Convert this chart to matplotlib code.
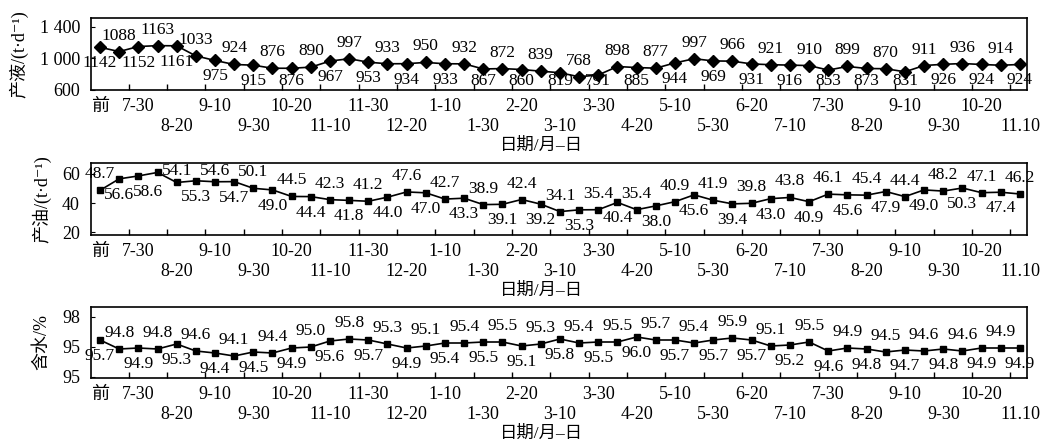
import matplotlib
matplotlib.use('Agg')
import matplotlib.pyplot as plt
import numpy as np
from matplotlib.ticker import FuncFormatter

plt.rcParams['font.family'] = ['Liberation Serif', 'Noto Sans CJK SC', 'DejaVu Sans']

# date labels, every second point (10-day steps)
dates = ['前', '7-30', '8-20', '9-10', '9-30', '10-20', '11-10', '11-30', '12-20',
         '1-10', '1-30', '2-20', '3-10', '3-30', '4-20', '5-10', '5-30', '6-20',
         '7-10', '7-30', '8-20', '9-10', '9-30', '10-20', '11.10']

# liquid production, t/d
liquid = [1142, 1088, 1152, 1163, 1161, 1033, 975, 924, 915, 876,
          876, 890, 967, 997, 953, 933, 934, 950, 933, 932,
          867, 872, 860, 839, 819, 768, 791, 898, 885, 877,
          944, 997, 969, 966, 931, 921, 916, 910, 853, 899,
          873, 870, 831, 911, 926, 936, 924, 914, 924]

# oil production, t/d
oil = [48.7, 56.6, 58.6, 61.0, 54.1, 55.3, 54.6, 54.7, 50.1, 49.0,
       44.5, 44.4, 42.3, 41.8, 41.2, 44.0, 47.6, 47.0, 42.7, 43.3,
       38.9, 39.1, 42.4, 39.2, 34.1, 35.3, 35.4, 40.4, 35.4, 38.0,
       40.9, 45.6, 41.9, 39.4, 39.8, 43.0, 43.8, 40.9, 46.1, 45.6,
       45.4, 47.9, 44.4, 49.0, 48.2, 50.3, 47.1, 47.4, 46.2]
oil_unlabeled = [3]

# water cut, %
water = [95.7, 94.8, 94.9, 94.8, 95.3, 94.6, 94.4, 94.1, 94.5, 94.4,
         94.9, 95.0, 95.6, 95.8, 95.7, 95.3, 94.9, 95.1, 95.4, 95.4,
         95.5, 95.5, 95.1, 95.3, 95.8, 95.4, 95.5, 95.5, 96.0, 95.7,
         95.7, 95.4, 95.7, 95.9, 95.7, 95.1, 95.2, 95.5, 94.6, 94.9,
         94.8, 94.5, 94.7, 94.6, 94.8, 94.6, 94.9, 94.9, 94.9]
water_ticks = [92, 95, 98]
water_ticklabels = ['95', '95', '98']

xlabel = '日期/月–日'


def draw_panel(ax, values, marker, ms, fmt, first_below, ylim, skip=(), flip=()):
    """
    Line with markers and alternating value labels
    """
    x = np.arange(len(values))
    ax.plot(x, values, color='k', lw=1.2, marker=marker, ms=ms, mfc='k', mec='k')
    ax.set_xlim(-0.47, 48.37)
    ax.set_ylim(*ylim)

    # labels kept inside the box, as in the source figure
    bottom = ax.get_window_extent().y0
    top = ax.get_window_extent().y1
    for i, v in enumerate(values):
        if i in skip:
            continue
        below = (i % 2 == 0) == first_below
        dx = 0
        if i in flip:
            below = not below
            dx = 10
        px, py = ax.transData.transform((i, v))
        ty = py - 16 if below else py + 16
        ty = min(max(ty, bottom + 9), top - 8)
        ax.annotate(fmt.format(v), xy=(px + dx, ty), xycoords='figure pixels',
                    ha='center', va='center', fontsize=12.5)

    # two staggered rows of date labels
    labels = []
    for k, d in enumerate(dates):
        labels.append('\n' + d if (k % 2 == 0 and k > 0) else d)
    ax.set_xticks(x[::2])
    ax.set_xticklabels(labels)
    ax.set_xticks(np.arange(1.5, len(values) - 1, 2), minor=True)
    ax.tick_params(axis='x', which='major', length=0, pad=6, labelsize=13)
    ax.tick_params(axis='x', which='minor', direction='in', length=4, width=1)
    ax.tick_params(axis='y', direction='in', length=3, labelsize=13, pad=8)
    for s in ax.spines.values():
        s.set_linewidth(1.2)
    ax.annotate(xlabel, xy=(0.481, 0), xycoords='axes fraction', xytext=(0, -40),
                textcoords='offset points', ha='center', va='center', fontsize=12.5)


fig = plt.figure(figsize=(10.53, 4.43), dpi=100)
left, width = 91 / 1053, 936 / 1053

ax1 = fig.add_axes([left, 1 - 90 / 443, width, 72 / 443])
draw_panel(ax1, liquid, 'D', 6, '{:d}', True, (600, 1514))
ax1.set_yticks([600, 1000, 1400])
ax1.yaxis.set_major_formatter(FuncFormatter(lambda v, p: '{:,.0f}'.format(v).replace(',', ' ')))
ax1.set_ylabel('产液/(t·d⁻¹)', fontsize=13, labelpad=8)

ax2 = fig.add_axes([left, 1 - 235 / 443, width, 72 / 443])
draw_panel(ax2, oil, 's', 5, '{:.1f}', False, (18, 67.5), skip=oil_unlabeled, flip=[2])
ax2.set_yticks([20, 40, 60])
ax2.set_ylabel('产油/(t·d⁻¹)', fontsize=13, labelpad=8)

ax3 = fig.add_axes([left, 1 - 378 / 443, width, 71 / 443])
draw_panel(ax3, water, 's', 5, '{:.1f}', True, (91.9, 99.0))
ax3.set_yticks(water_ticks)
ax3.set_yticklabels(water_ticklabels)
ax3.set_ylabel('含水/%', fontsize=13, labelpad=8)

fig.savefig('out.png', dpi=100)
